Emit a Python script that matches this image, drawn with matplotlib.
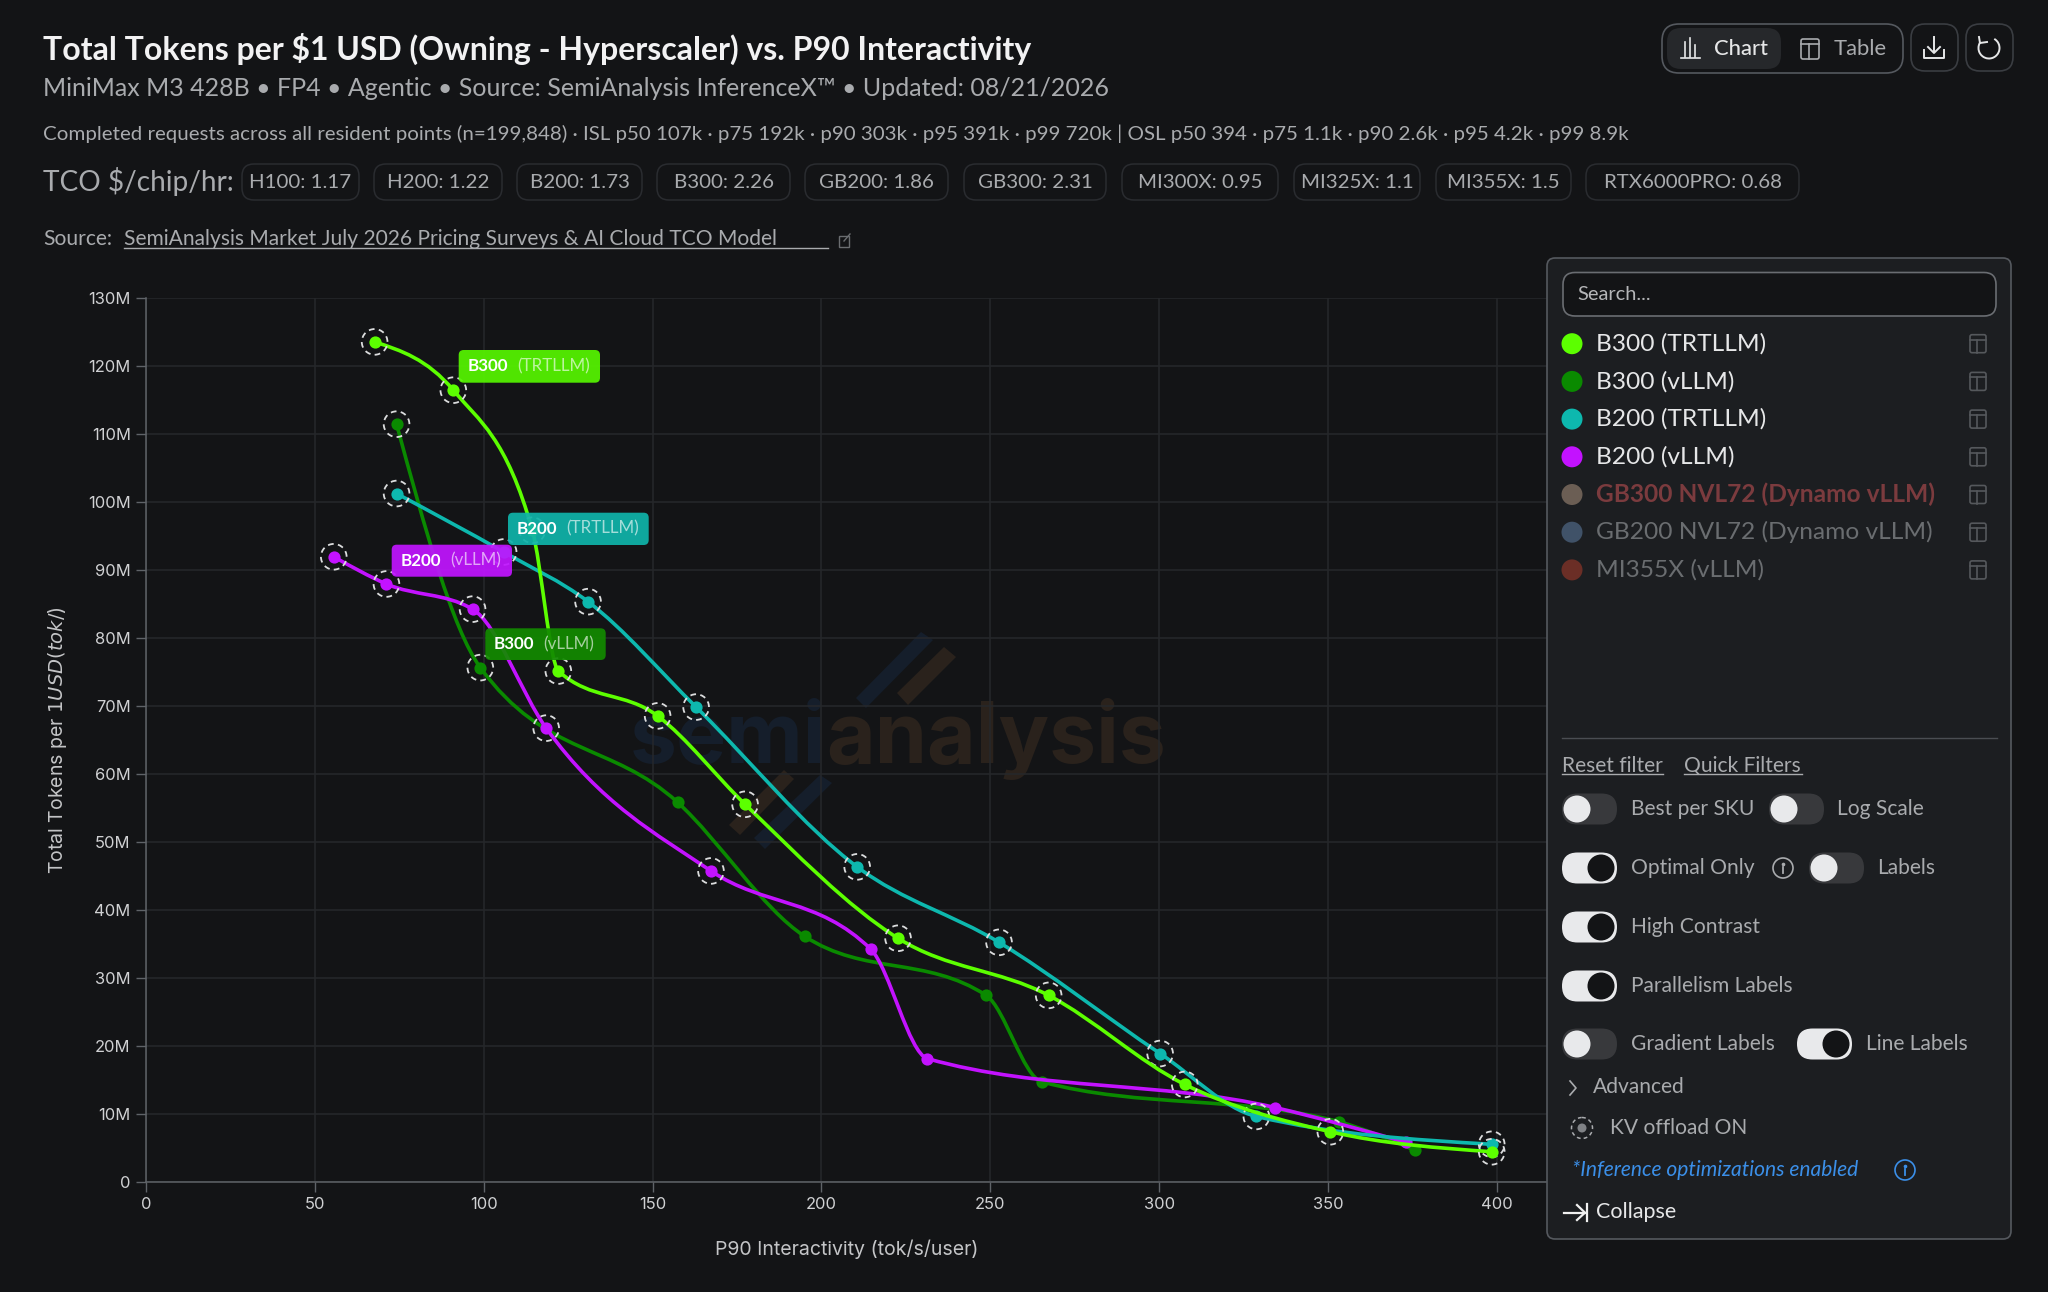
import numpy as np
import matplotlib
matplotlib.use('Agg')
import matplotlib.pyplot as plt
from matplotlib.path import Path
from matplotlib.patches import PathPatch, FancyBboxPatch, Circle, Polygon, Rectangle, Arc

# Series values: x = tok/s/user, y = million tokens per $
b300_trt_x = [67.7, 91.0, 114.4, 122.1, 151.5, 177.4, 222.7, 267.3, 307.6, 350.7, 398.5]
b300_trt_y = [123.5, 116.4, 95.8, 75.1, 68.5, 55.5, 35.8, 27.4, 14.3, 7.35, 4.4]
b300_trt_kv = [1, 1, 1, 1, 1, 1, 1, 1, 1, 1, 1]

b300_v_x = [74.2, 99.0, 157.4, 195.0, 248.8, 265.2, 353.3, 375.9]
b300_v_y = [111.4, 75.6, 55.8, 36.1, 27.4, 14.7, 8.8, 4.6]
b300_v_kv = [1, 1, 0, 0, 0, 0, 0, 0]

b200_trt_x = [74.2, 105.9, 130.9, 162.9, 210.6, 252.6, 300.3, 328.8, 398.5]
b200_trt_y = [101.2, 92.6, 85.3, 69.8, 46.3, 35.2, 18.85, 9.6, 5.5]
b200_trt_kv = [1, 1, 1, 1, 1, 1, 1, 1, 1]

b200_v_x = [55.6, 71.2, 96.7, 118.5, 167.3, 214.6, 231.4, 334.4, 373.0]
b200_v_y = [91.9, 87.9, 84.2, 66.7, 45.7, 34.2, 18.1, 10.9, 5.8]
b200_v_kv = [1, 1, 1, 1, 1, 0, 0, 0, 0]

x_ticks = [0, 50, 100, 150, 200, 250, 300, 350, 400]
y_ticks = [0, 10, 20, 30, 40, 50, 60, 70, 80, 90, 100, 110, 120, 130]
y_tick_labels = ['0', '10M', '20M', '30M', '40M', '50M', '60M', '70M', '80M', '90M', '100M', '110M', '120M', '130M']

tco_chips = ['H100: 1.17', 'H200: 1.22', 'B200: 1.73', 'B300: 2.26', 'GB200: 1.86', 'GB300: 2.31',
             'MI300X: 0.95', 'MI325X: 1.1', 'MI355X: 1.5', 'RTX6000PRO: 0.68']
chip_edges = [(242, 359), (374, 502), (517, 642), (657, 790), (805, 948), (964, 1106),
              (1122, 1278), (1294, 1420), (1436, 1571), (1586, 1799)]

legend_names = ['B300 (TRTLLM)', 'B300 (vLLM)', 'B200 (TRTLLM)', 'B200 (vLLM)',
                'GB300 NVL72 (Dynamo vLLM)', 'GB200 NVL72 (Dynamo vLLM)', 'MI355X (vLLM)']
legend_dots = ['#5CFF00', '#0A8A00', '#0DB8AE', '#C312FF', '#6B5E54', '#405268', '#6B2E26']
legend_text = ['#E6E7E8', '#E6E7E8', '#E6E7E8', '#E6E7E8', '#7B3B3E', '#6A6D70', '#6A6D70']

BG = '#131416'
PANEL = '#1C1E21'
EDGE = '#55595F'
TEXT = '#A9ABAE'
UI_FONT = 'Lato'
TICK_FONT = 'Inter'

plt.rcParams['font.family'] = UI_FONT


def px(size):
    # font size given in pixels of the final png
    return size * 0.72


def monotone_path(xs, ys):
    # Smooth line through the points, same tangents as a monotone-x curve
    xs = np.array(xs, dtype=float)
    ys = np.array(ys, dtype=float)
    h = np.diff(xs)
    s = np.diff(ys) / h
    m = np.zeros(len(xs))
    for i in range(1, len(xs) - 1):
        p = (s[i - 1] * h[i] + s[i] * h[i - 1]) / (h[i - 1] + h[i])
        m[i] = (np.sign(s[i - 1]) + np.sign(s[i])) * min(abs(s[i - 1]), abs(s[i]), 0.5 * abs(p))
    m[0] = (3 * s[0] - m[1]) / 2
    m[-1] = (3 * s[-1] - m[-2]) / 2
    verts = [(xs[0], ys[0])]
    codes = [Path.MOVETO]
    for i in range(len(h)):
        d = h[i] / 3
        verts += [(xs[i] + d, ys[i] + d * m[i]), (xs[i + 1] - d, ys[i + 1] - d * m[i + 1]), (xs[i + 1], ys[i + 1])]
        codes += [Path.CURVE4, Path.CURVE4, Path.CURVE4]
    return Path(verts, codes)


def draw_series(ax, xs, ys, kv, color, z):
    ax.add_patch(PathPatch(monotone_path(xs, ys), fc='none', ec=color, lw=2.6, zorder=z, capstyle='round'))
    ax.plot(xs, ys, 'o', color=color, ms=8.8, mew=0, zorder=z + 0.1)
    ring_x = [a for a, k in zip(xs, kv) if k]
    ring_y = [b for b, k in zip(ys, kv) if k]
    ax.scatter(ring_x, ring_y, s=18.5 ** 2, facecolors='none', edgecolors='#DCDDDE', linewidths=1.3,
               linestyles=(0, (3.2, 2.4)), zorder=z + 0.2)


def rbox(ax, x0, y0, x1, y1, r, fc, ec='none', lw=1.0, z=2, alpha=None):
    ax.add_patch(FancyBboxPatch((x0, y0), x1 - x0, y1 - y0, boxstyle=f'round,pad=0,rounding_size={r}',
                                fc=fc, ec=ec, lw=lw, zorder=z, alpha=alpha))


def toggle(ax, x, y, on):
    w, h = 55, 31
    if on:
        rbox(ax, x, y - h / 2, x + w, y + h / 2, h / 2, '#E8E9EB', z=3)
        ax.add_patch(Circle((x + w - 16, y), 13.5, fc='#131416', ec='none', zorder=4))
    else:
        rbox(ax, x, y - h / 2, x + w, y + h / 2, h / 2, '#38393C', z=3)
        ax.add_patch(Circle((x + 15, y), 13.5, fc='#E8E9EB', ec='none', zorder=4))


def table_icon(ax, x, y, color, w=16, h=18):
    ax.add_patch(FancyBboxPatch((x - w / 2, y - h / 2), w, h, boxstyle='round,pad=0,rounding_size=2',
                                fc='none', ec=color, lw=1.2, zorder=4))
    ax.plot([x - w / 2, x + w / 2], [y - h / 2 + 5, y - h / 2 + 5], color=color, lw=1.2, zorder=4)
    ax.plot([x - 1.5, x - 1.5], [y - h / 2 + 5, y + h / 2], color=color, lw=1.2, zorder=4)


def info_icon(ax, x, y, color, r=10):
    ax.add_patch(Circle((x, y), r, fc='none', ec=color, lw=1.2, zorder=4))
    ax.plot([x, x], [y - 1, y + 5], color=color, lw=1.3, zorder=4)
    ax.plot([x], [y - 4.5], 'o', color=color, ms=1.6, zorder=4)


fig = plt.figure(figsize=(20.48, 12.92), dpi=100, facecolor=BG)

# Pixel-coordinate layer under the chart, for the watermark
bg = fig.add_axes([0, 0, 1, 1], zorder=0)
bg.set_xlim(0, 2048)
bg.set_ylim(1292, 0)
bg.axis('off')
navy = '#151E2B'
brown = '#2A221C'
bg.text(826, 763, 'semi', color=navy, fontsize=px(84), fontweight='bold', family='Inter', ha='right', va='baseline')
bg.text(826, 763, 'analysis', color=brown, fontsize=px(84), fontweight='bold', family='Inter', ha='left', va='baseline')
bg.add_patch(Polygon([(921, 632), (933, 640), (866, 708), (856, 698)], fc=navy, ec='none'))
bg.add_patch(Polygon([(944, 647), (956, 657), (908, 705), (897, 693)], fc=brown, ec='none'))
bg.add_patch(Polygon([(784, 770), (794, 779), (740, 835), (729, 825)], fc=brown, ec='none'))
bg.add_patch(Polygon([(820, 775), (832, 783), (765, 849), (754, 838)], fc=navy, ec='none'))

# Main chart
ax = fig.add_axes([146 / 2048, (1292 - 1181.7) / 1292, 1401 / 2048, 884 / 1292], zorder=1)
ax.patch.set_alpha(0)
ax.set_xlim(0, 1401 / 3.377)
ax.set_ylim(0, 130)
ax.set_xticks(x_ticks)
ax.set_yticks(y_ticks)
ax.set_yticklabels(y_tick_labels)
ax.grid(True, color='#26282B', lw=1.1)
ax.set_axisbelow(True)
for side in ['top', 'right']:
    ax.spines[side].set_visible(False)
for side in ['left', 'bottom']:
    ax.spines[side].set_color('#5F6368')
    ax.spines[side].set_linewidth(1.1)
ax.tick_params(length=7, width=1, color='#5F6368', labelcolor='#D0D1D3', labelsize=px(16.5), pad=4)
for lab in ax.get_xticklabels() + ax.get_yticklabels():
    lab.set_family(TICK_FONT)
ax.set_xlabel('P90 Interactivity (tok/s/user)', color='#C4C5C7', fontsize=px(19.5), family=TICK_FONT, labelpad=20)
ax.set_ylabel('Total Tokens per $1 USD (tok/$)', color='#C4C5C7', fontsize=px(19.5), family=TICK_FONT, labelpad=14)

draw_series(ax, b300_v_x, b300_v_y, b300_v_kv, '#0A8A00', 3)
draw_series(ax, b200_v_x, b200_v_y, b200_v_kv, '#C312FF', 4)
draw_series(ax, b200_trt_x, b200_trt_y, b200_trt_kv, '#0DB8AE', 5)
draw_series(ax, b300_trt_x, b300_trt_y, b300_trt_kv, '#5CFF00', 6)

# Pixel-coordinate layer over the chart: header, labels and side panel
ui = fig.add_axes([0, 0, 1, 1], zorder=5)
ui.set_xlim(0, 2048)
ui.set_ylim(1292, 0)
ui.axis('off')
ui.patch.set_alpha(0)

# Line labels
line_labels = [('B300', '(TRTLLM)', '#55F500', 458.7, 600, 350, 382.7, 517),
               ('B200', '(TRTLLM)', '#0FB3A9', 508, 648.7, 512.7, 545, 566.7),
               ('B200', '(vLLM)', '#C015FF', 391.7, 512, 544.7, 576.7, 450),
               ('B300', '(vLLM)', '#128A00', 485.3, 605.7, 628.3, 660, 543)]
for chip, rest, col, x0, x1, y0, y1, x2 in line_labels:
    rbox(ui, x0, y0, x1, y1, 5, col, z=2, alpha=0.93)
    ui.text(x0 + 8.5, (y0 + y1) / 2, chip, color='white', fontsize=px(17), fontweight='bold', va='center', zorder=3)
    ui.text(x2, (y0 + y1) / 2, rest, color='#FFFFFF', alpha=0.62, fontsize=px(17), va='center', zorder=3)

# Header text
ui.text(43, 49, 'Total Tokens per $1 USD (Owning - Hyperscaler) vs. P90 Interactivity', color='#F2F2F3',
        fontsize=px(32), fontweight='bold', va='center')
ui.text(43, 89, 'MiniMax M3 428B • FP4 • Agentic • Source: SemiAnalysis InferenceX™ • Updated: 08/21/2026',
        color=TEXT, fontsize=px(25), va='center')
ui.text(43, 134, 'Completed requests across all resident points (n=199,848) · ISL p50 107k · p75 192k · p90 303k · p95 391k · p99 720k | OSL p50 394 · p75 1.1k · p90 2.6k · p95 4.2k · p99 8.9k',
        color=TEXT, fontsize=px(20.5), va='center')
ui.text(43, 182, 'TCO $/chip/hr:', color=TEXT, fontsize=px(28), va='center')
for label, (x0, x1) in zip(tco_chips, chip_edges):
    rbox(ui, x0, 164, x1, 200, 12, 'none', ec='#2A2C30', lw=1.1)
    ui.text((x0 + x1) / 2, 182, label, color=TEXT, fontsize=px(20.5), ha='center', va='center')
ui.text(43, 239, 'Source:', color=TEXT, fontsize=px(21), va='center')
ui.text(124, 239, 'SemiAnalysis Market July 2026 Pricing Surveys & AI Cloud TCO Model', color=TEXT, fontsize=px(21), va='center')
ui.plot([124, 828], [247.5, 247.5], color=TEXT, lw=1)
ui.add_patch(Rectangle((839, 236), 10, 11, fc='none', ec='#6A6D70', lw=1))
ui.plot([844, 850], [241, 234], color='#6A6D70', lw=1)

# Chart / table switch and buttons
rbox(ui, 1662, 24, 1903, 73, 17, 'none', ec=EDGE, lw=1.2)
rbox(ui, 1667, 28, 1781, 69, 14, '#26282B')
for bx, bh in zip([1685, 1690, 1695], [15, 19, 12]):
    ui.plot([bx, bx], [57, 57 - bh], color='#E6E7E8', lw=1.2, zorder=4)
ui.plot([1681, 1700], [58, 58], color='#E6E7E8', lw=1.2, zorder=4)
ui.text(1714, 49, 'Chart', color='#E6E7E8', fontsize=px(22), fontweight='medium', va='center', zorder=4)
table_icon(ui, 1810, 49, TEXT, w=18, h=20)
ui.text(1834, 49, 'Table', color=TEXT, fontsize=px(22), va='center')
rbox(ui, 1911, 24, 1958, 71, 14, 'none', ec='#3A3D42', lw=1.2)
ui.plot([1934, 1934], [37, 52], color='#E6E7E8', lw=1.4)
ui.plot([1928, 1934, 1940], [47, 53, 47], color='#E6E7E8', lw=1.4)
ui.plot([1924, 1924, 1944, 1944], [50, 58, 58, 50], color='#E6E7E8', lw=1.4)
rbox(ui, 1966, 24, 2013, 71, 14, 'none', ec='#3A3D42', lw=1.2)
ui.add_patch(Arc((1989, 48), 21, 21, theta1=-60, theta2=215, ec='#E6E7E8', lw=1.4))
ui.plot([1979, 1980, 1987], [37, 43, 42], color='#E6E7E8', lw=1.4)

# Side panel
rbox(ui, 1547, 258, 2011, 1239, 8, PANEL, ec=EDGE, lw=1.2, z=1)
rbox(ui, 1563, 272.5, 1996, 316, 12, BG, ec='#6A6D72', lw=1.2)
ui.text(1577, 294, 'Search...', color='#B5B6B8', fontsize=px(20), va='center', zorder=3)
for i, name in enumerate(legend_names):
    y = 343.7 + i * 37.7
    ui.add_patch(Circle((1572, y), 10.5, fc=legend_dots[i], ec='none', zorder=3))
    ui.text(1596, y, name, color=legend_text[i], fontsize=px(24.5), va='center', zorder=3,
            fontweight='bold' if i == 4 else 'normal')
    table_icon(ui, 1978, y, '#55585C')

ui.plot([1562, 1997], [737.7, 737.7], color='#4A4D52', lw=1, zorder=3)
ui.text(1562, 765.7, 'Reset filter', color=TEXT, fontsize=px(21), va='center', zorder=3)
ui.plot([1562, 1663], [774, 774], color=TEXT, lw=1, zorder=3)
ui.text(1684, 765.7, 'Quick Filters', color=TEXT, fontsize=px(21), va='center', zorder=3)
ui.plot([1684, 1802], [774, 774], color=TEXT, lw=1, zorder=3)

toggle(ui, 1562, 809, False)
ui.text(1631, 809, 'Best per SKU', color=TEXT, fontsize=px(21), va='center', zorder=3)
toggle(ui, 1769, 809, False)
ui.text(1837, 809, 'Log Scale', color=TEXT, fontsize=px(21), va='center', zorder=3)
toggle(ui, 1562, 868, True)
ui.text(1631, 868, 'Optimal Only', color=TEXT, fontsize=px(21), va='center', zorder=3)
info_icon(ui, 1783, 868, TEXT)
toggle(ui, 1809, 868, False)
ui.text(1877, 868, 'Labels', color=TEXT, fontsize=px(21), va='center', zorder=3)
toggle(ui, 1562, 927, True)
ui.text(1631, 927, 'High Contrast', color=TEXT, fontsize=px(21), va='center', zorder=3)
toggle(ui, 1562, 986, True)
ui.text(1631, 986, 'Parallelism Labels', color=TEXT, fontsize=px(21), va='center', zorder=3)
toggle(ui, 1562, 1044, False)
ui.text(1631, 1044, 'Gradient Labels', color=TEXT, fontsize=px(21), va='center', zorder=3)
toggle(ui, 1797, 1044, True)
ui.text(1866, 1044, 'Line Labels', color=TEXT, fontsize=px(21), va='center', zorder=3)

ui.plot([1570, 1576, 1570], [1081, 1088, 1095], color=TEXT, lw=1.2, zorder=3)
ui.text(1593, 1087, 'Advanced', color=TEXT, fontsize=px(21), va='center', zorder=3)
ui.add_patch(Circle((1582, 1128), 10.5, fc='none', ec=TEXT, lw=1.1, ls=(0, (2.5, 2)), zorder=3))
ui.add_patch(Circle((1582, 1128), 4.5, fc='#808286', ec='none', zorder=3))
ui.text(1610, 1128, 'KV offload ON', color=TEXT, fontsize=px(21), va='center', zorder=3)
ui.text(1572, 1170, '*Inference optimizations enabled', color='#3B8FE8', fontsize=px(21), style='italic', va='center', zorder=3)
info_icon(ui, 1905, 1170, '#3B8FE8')
ui.plot([1564, 1585], [1212.7, 1212.7], color='#F0F0F0', lw=1.6, zorder=3)
ui.plot([1577, 1585, 1577], [1205, 1212.7, 1220], color='#F0F0F0', lw=1.6, zorder=3)
ui.plot([1587, 1587], [1204, 1221], color='#F0F0F0', lw=1.6, zorder=3)
ui.text(1596, 1212, 'Collapse', color='#E6E7E8', fontsize=px(21.5), va='center', zorder=3)

plt.savefig('out.png', dpi=100, facecolor=BG)
